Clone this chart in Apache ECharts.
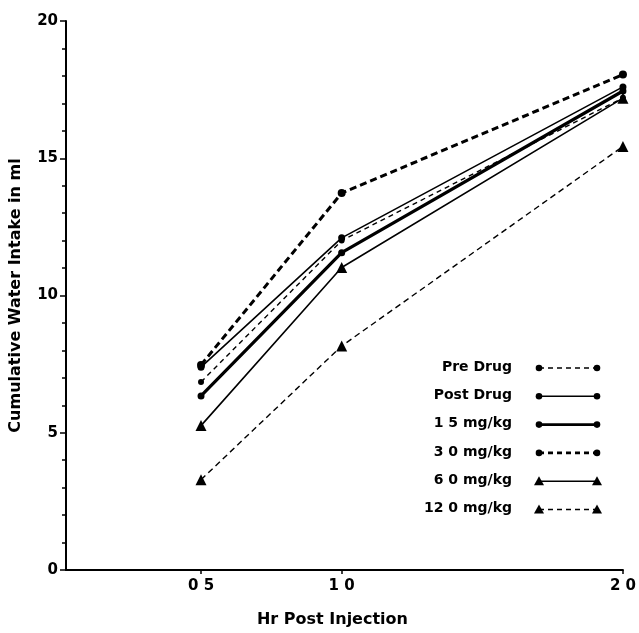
<!DOCTYPE html>
<html><head><meta charset="utf-8">
<script src="https://cdn.jsdelivr.net/npm/echarts@6/dist/echarts.min.js"></script>
<style>html,body{margin:0;padding:0;background:#fff}#c{width:639px;height:633px}</style>
</head><body><div id="c"></div>
<script>
const hours = [0.5, 1.0, 2.0];
const xTickLabels = ['0 5', '1 0', '2 0'];
const yTicks = [0, 5, 10, 15, 20];
const seriesNames = ['Pre Drug', 'Post Drug', '1 5 mg/kg', '3 0 mg/kg', '6 0 mg/kg', '12 0 mg/kg'];
const preDrug  = [6.85, 12.0, 17.2];
const postDrug = [7.39, 12.1, 17.6];
const mg15     = [6.34, 11.56, 17.45];
const mg30     = [7.47, 13.73, 18.05];
const mg60     = [5.26, 11.02, 17.19];
const mg120    = [3.29, 8.16, 15.43];

const styles = [
  {sym:'circle', w:1.4, dash:[5,4], size:6},
  {sym:'circle', w:1.6, dash:'solid', size:7},
  {sym:'circle', w:3.2, dash:'solid', size:7},
  {sym:'circle', w:3.0, dash:[7,4], size:8},
  {sym:'triangle', w:1.6, dash:'solid', size:11},
  {sym:'triangle', w:1.4, dash:[6,4], size:11}
];
const allData = [preDrug, postDrug, mg15, mg30, mg60, mg120];
const FONT = 'DejaVu Sans';

const series = allData.map((d, i) => ({
  name: seriesNames[i],
  type: 'line',
  data: d.map((v, j) => [hours[j], v]),
  symbol: styles[i].sym,
  symbolSize: styles[i].size,
  showSymbol: true,
  itemStyle: {color: '#000'},
  lineStyle: {color: '#000', width: styles[i].w, type: styles[i].dash},
  z: 3 + i
}));

const graphic = [];
const legY0 = 368, legDy = 28.3;
seriesNames.forEach((n, i) => {
  const y = legY0 + i * legDy;
  graphic.push({type: 'text', right: 639 - 512, top: y - 8,
    style: {text: n, font: 'bold 14px "' + FONT + '"', fill: '#000', textAlign: 'right'}});
  graphic.push({type: 'line', shape: {x1: 539, y1: y, x2: 597, y2: y},
    style: {stroke: '#000', lineWidth: styles[i].w > 2 ? 2.6 : 1.4, lineDash: styles[i].dash === 'solid' ? null : [5, 4]}});
  [539, 597].forEach(x => {
    if (styles[i].sym === 'circle') {
      graphic.push({type: 'circle', shape: {cx: x, cy: y, r: 3.3}, style: {fill: '#000'}});
    } else {
      graphic.push({type: 'polygon', shape: {points: [[x, y - 5], [x - 5, y + 4], [x + 5, y + 4]]}, style: {fill: '#000'}});
    }
  });
});

const chart = echarts.init(document.getElementById('c'), null, {renderer: 'canvas'});
chart.setOption({
  animation: false,
  backgroundColor: '#fff',
  grid: {left: 64, right: 14, top: 21, bottom: 51, containLabel: false},
  xAxis: {
    type: 'value', min: 0.02, max: 2.0,
    name: 'Hr Post Injection', nameLocation: 'middle', nameGap: 42,
    nameTextStyle: {fontFamily: FONT, fontWeight: 'bold', fontSize: 16, color: '#000', padding: [0, 24, 0, 0]},
    axisLine: {lineStyle: {color: '#000', width: 2}},
    axisTick: {show: true, customValues: hours, length: 4, lineStyle: {color: '#000', width: 1.5}},
    axisLabel: {customValues: hours, color: '#000', fontFamily: FONT, fontWeight: 'bold', fontSize: 15, margin: 9,
      formatter: v => xTickLabels[hours.indexOf(v)] || ''},
    splitLine: {show: false}
  },
  yAxis: {
    type: 'value', min: 0, max: 20, interval: 5,
    name: 'Cumulative Water Intake in ml', nameLocation: 'middle', nameGap: 42, nameRotate: 90,
    nameTextStyle: {fontFamily: FONT, fontWeight: 'bold', fontSize: 16, color: '#000'},
    axisLine: {show: true, lineStyle: {color: '#000', width: 2}},
    axisTick: {show: true, length: 6, lineStyle: {color: '#000', width: 1.5}},
    minorTick: {show: true, splitNumber: 5, length: 4, lineStyle: {color: '#000', width: 1.5}},
    axisLabel: {color: '#000', fontFamily: FONT, fontWeight: 'bold', fontSize: 15, margin: 8,
      formatter: v => yTicks.includes(v) ? String(v) : ''},
    splitLine: {show: false}
  },
  graphic: graphic,
  series: series
});
</script></body></html>
